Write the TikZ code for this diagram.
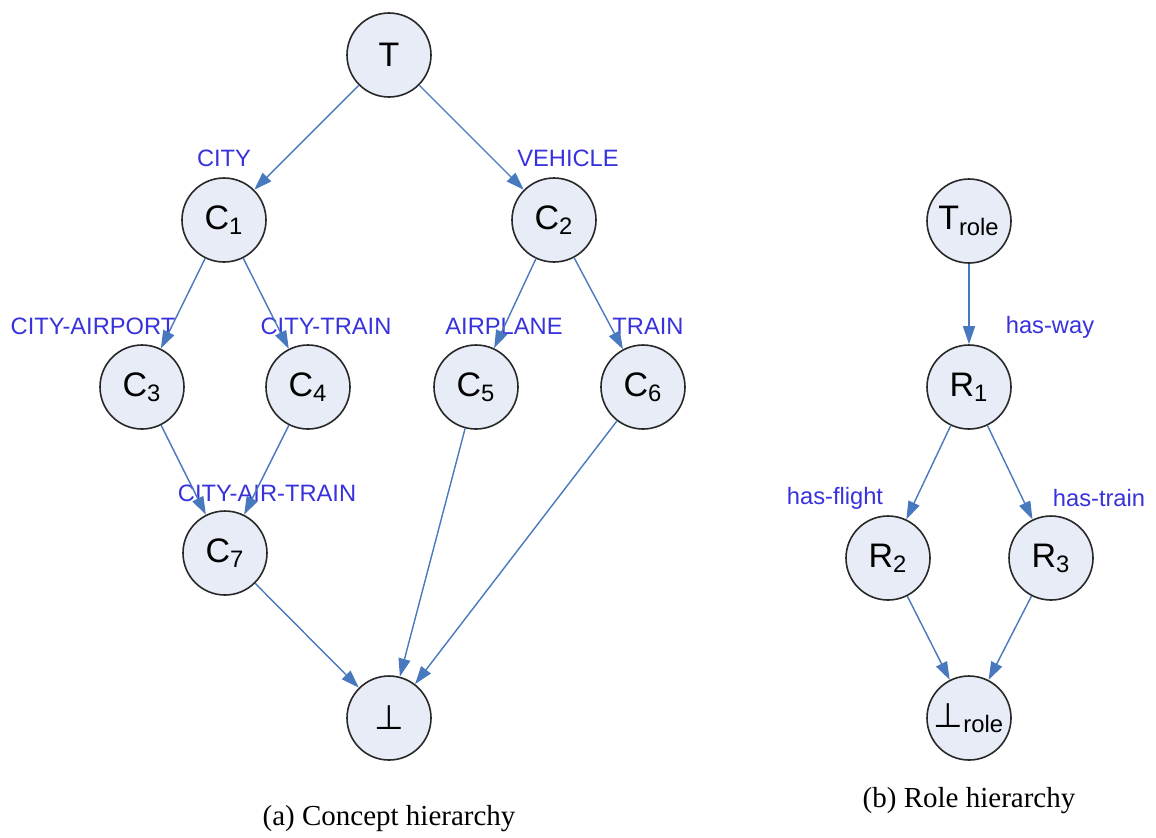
\documentclass[tikz,border=0pt]{standalone}
\usepackage{fontspec}
\setmainfont{Liberation Serif}
\newfontfamily\arialfont{Liberation Sans}
\newfontfamily\symbfont{DejaVu Sans}
\usetikzlibrary{arrows.meta, positioning}
\definecolor{edgeblue}{RGB}{72,120,190}
\definecolor{labelblue}{RGB}{55,50,220}
\definecolor{nodefill}{RGB}{232,236,246}
\definecolor{nodeline}{RGB}{40,40,40}

\begin{document}
\begin{tikzpicture}[
  on grid,
  cls/.style={circle, draw=nodeline, line width=0.8pt, fill=nodefill,
              minimum size=42pt, inner sep=0pt,
              font=\arialfont\fontsize{17}{19}\selectfont},
  lbl/.style={text=labelblue, inner sep=0pt,
              font=\arialfont\fontsize{11.85}{13}\selectfont},
  captext/.style={inner sep=0pt, font=\fontsize{14.5}{16}\selectfont},
  arr/.style={-{Triangle[length=9pt, width=6pt]}, draw=edgeblue, line width=0.7pt}
]
  \useasboundingbox (0,0) rectangle (578pt,-418.5pt);

  % concept hierarchy (left)
  \node[cls] (top) at (194.5pt,-27.5pt) {T};
  \node[cls, below left=82.5pt and 82.5pt of top]  (c1) {C\textsubscript{1}};
  \node[cls, below right=82.5pt and 82.5pt of top] (c2) {C\textsubscript{2}};
  \node[cls, below left=83.5pt and 41pt of c1]     (c3) {C\textsubscript{3}};
  \node[cls, below right=83.5pt and 42pt of c1]    (c4) {C\textsubscript{4}};
  \node[cls, below left=83.5pt and 39pt of c2]     (c5) {C\textsubscript{5}};
  \node[cls, below right=83.5pt and 44.5pt of c2]  (c6) {C\textsubscript{6}};
  \node[cls, below right=83pt and 41.5pt of c3]    (c7) {C\textsubscript{7}};
  \node[cls, below=331.5pt of top]                 (bot) {{\symbfont ⊥}};

  \node[lbl, above=31pt of c1]                    (lcity)    {CITY};
  \node[lbl, above right=31pt and 7pt of c2]      (lvehicle) {VEHICLE};
  \node[lbl, above left=30.5pt and 24.5pt of c3]  (lairport) {CITY-AIRPORT};
  \node[lbl, above right=30.5pt and 9pt of c4]    (lctrain)  {CITY-TRAIN};
  \node[lbl, above right=30.5pt and 14pt of c5]   (lplane)   {AIRPLANE};
  \node[lbl, above right=30.5pt and 2.5pt of c6]  (ltrain)   {TRAIN};
  \node[lbl, above right=30pt and 21pt of c7]     (lairtrain) {CITY-AIR-TRAIN};

  \node[captext, below=50.5pt of bot] (capa) {(a) Concept hierarchy};

  % role hierarchy (right)
  \node[cls] (rtop) at (484.5pt,-110.5pt) {T\textsubscript{role}};
  \node[cls, below=83pt of rtop]                  (r1) {R\textsubscript{1}};
  \node[cls, below left=85.5pt and 40.5pt of r1]  (r2) {R\textsubscript{2}};
  \node[cls, below right=85.5pt and 41pt of r1]   (r3) {R\textsubscript{3}};
  \node[cls, below=165.5pt of r1]                 (rbot) {{\symbfont ⊥}\textsubscript{role}};

  \node[lbl, above right=30pt and 40.5pt of r1]   (lway)    {has-way};
  \node[lbl, above left=30pt and 26.5pt of r2]    (lflight) {has-flight};
  \node[lbl, above right=30pt and 24pt of r3]     (lhtrain) {has-train};

  \node[captext, below=41.5pt of rbot] (capb) {(b) Role hierarchy};

  \draw[arr] (top) -- (c1);
  \draw[arr] (top) -- (c2);
  \draw[arr] (c1) -- (c3);
  \draw[arr] (c1) -- (c4);
  \draw[arr] (c2) -- (c5);
  \draw[arr] (c2) -- (c6);
  \draw[arr] (c3) -- (c7);
  \draw[arr] (c4) -- (c7);
  \draw[arr] (c7) -- (bot);
  \draw[arr] (c5) -- (bot);
  \draw[arr] (c6) -- (bot);

  \draw[arr] (rtop) -- (r1);
  \draw[arr] (r1) -- (r2);
  \draw[arr] (r1) -- (r3);
  \draw[arr] (r2) -- (rbot);
  \draw[arr] (r3) -- (rbot);
\end{tikzpicture}
\end{document}
